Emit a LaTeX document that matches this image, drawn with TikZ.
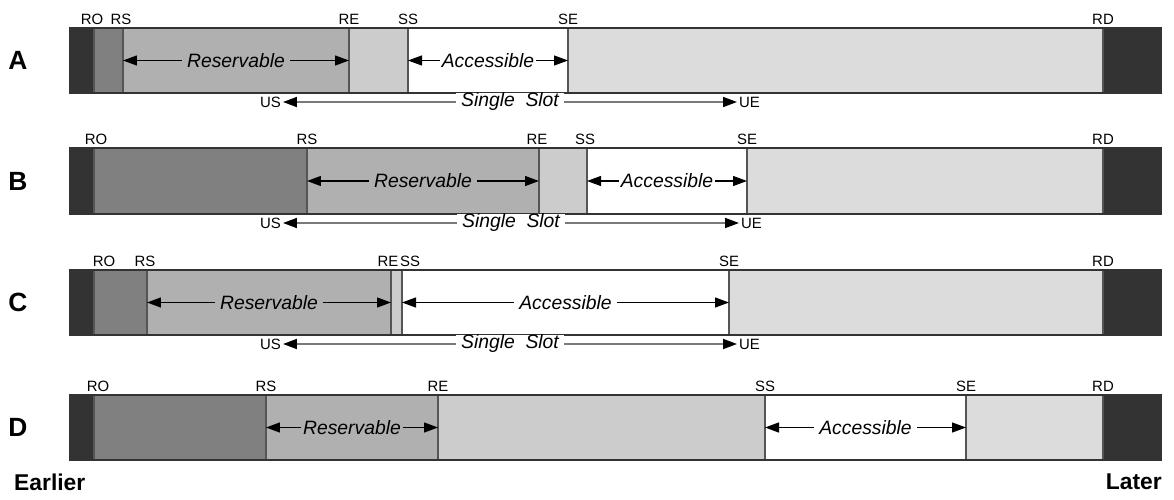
\documentclass[tikz,border=0pt]{standalone}
\usepackage{fontspec}
\setmainfont{Liberation Sans}
\usetikzlibrary{arrows.meta}
\definecolor{Ink}{HTML}{333333}
\definecolor{Used}{HTML}{808080}
\definecolor{Resv}{HTML}{B0B0B0}
\definecolor{Gap}{HTML}{CCCCCC}
\definecolor{Rest}{HTML}{DCDCDC}
\definecolor{Rule}{HTML}{555555}
\definecolor{Wire}{HTML}{7A7A7A}

\begin{document}
\begin{tikzpicture}[x=0.02cm, y=-0.02cm,
  tick/.style={font=\fontsize{8.5}{9}\selectfont, inner sep=1pt, anchor=south},
  rowname/.style={font=\fontsize{15}{16}\selectfont\bfseries},
  span/.style={{Triangle[length=0.28cm,width=0.2cm]}-{Triangle[length=0.28cm,width=0.2cm]}, line width=0.7pt},
  spantext/.style={font=\fontsize{11}{12}\selectfont\itshape, inner xsep=3pt, inner ysep=0pt},
  slot/.style={{Triangle[length=0.28cm,width=0.2cm,color=black]}-{Triangle[length=0.28cm,width=0.2cm,color=black]}, draw=Wire, line width=1pt},
  sep/.style={draw=Rule, line width=0.8pt},
  frame/.style={draw=Ink, line width=0.7pt}]
\useasboundingbox (0,0) rectangle (1174,500);

% row A
\node[rowname] (A) at (18,60.5) {A};
\foreach \l/\r/\c in {70/94/Ink,94/123/Used,123/349/Resv,349/408/Gap,408/568/white,568/1103/Rest,1103/1161/Ink}
  \fill[\c] (\l,28) rectangle (\r,93);
\foreach \x in {94,123,349,408,568,1103} \draw[sep] (\x,28) -- (\x,93);
\draw[frame] (70,28) rectangle (1161,93);
\node[tick] (aRO) at (92,27) {RO};
\node[tick] (aRS) at (121,27) {RS};
\node[tick] (aRE) at (349,27) {RE};
\node[tick] (aSS) at (408,27) {SS};
\node[tick] (aSE) at (568,27) {SE};
\node[tick] (aRD) at (1103,27) {RD};
\coordinate (aRSm) at (123,60.5);
\coordinate (aREm) at (349,60.5);
\coordinate (aSSm) at (408,60.5);
\coordinate (aSEm) at (568,60.5);
\draw[span] (aRSm) -- node[spantext, fill=Resv] {Reservable} (aREm);
\draw[span] (aSSm) -- node[spantext, fill=white, inner xsep=1pt] {Accessible} (aSEm);
\node[tick, anchor=east] (aUS) at (283,102) {US};
\node[tick, anchor=west] (aUE) at (737,102) {UE};
\draw[slot] (aUS.east) -- node[spantext, fill=white] {Single\ \ Slot} (aUE.west);

% row B
\node[rowname] (B) at (18,181) {B};
\foreach \l/\r/\c in {70/94/Ink,94/307/Used,307/539/Resv,539/587/Gap,587/747/white,747/1103/Rest,1103/1161/Ink}
  \fill[\c] (\l,148) rectangle (\r,214);
\foreach \x in {94,307,539,587,747,1103} \draw[sep] (\x,148) -- (\x,214);
\draw[frame] (70,148) rectangle (1161,214);
\node[tick] (bRO) at (96,147) {RO};
\node[tick] (bRS) at (307,147) {RS};
\node[tick] (bRE) at (537,147) {RE};
\node[tick] (bSS) at (585,147) {SS};
\node[tick] (bSE) at (747,147) {SE};
\node[tick] (bRD) at (1103,147) {RD};
\coordinate (bRSm) at (307,181);
\coordinate (bREm) at (539,181);
\coordinate (bSSm) at (587,181);
\coordinate (bSEm) at (747,181);
\draw[span] (bRSm) -- node[spantext, fill=Resv] {Reservable} (bREm);
\draw[span] (bSSm) -- node[spantext, fill=white, inner xsep=1pt] {Accessible} (bSEm);
\node[tick, anchor=east] (bUS) at (283,223) {US};
\node[tick, anchor=west] (bUE) at (739,223) {UE};
\draw[slot] (bUS.east) -- node[spantext, fill=white] {Single\ \ Slot} (bUE.west);

% row C
\node[rowname] (C) at (18,302.5) {C};
\foreach \l/\r/\c in {70/94/Ink,94/147/Used,147/391/Resv,391/402/Gap,402/729/white,729/1103/Rest,1103/1161/Ink}
  \fill[\c] (\l,270) rectangle (\r,335);
\foreach \x in {94,147,391,402,729,1103} \draw[sep] (\x,270) -- (\x,335);
\draw[frame] (70,270) rectangle (1161,335);
\node[tick] (cRO) at (104,269) {RO};
\node[tick] (cRS) at (145,269) {RS};
\node[tick] (cRE) at (388,269) {RE};
\node[tick] (cSS) at (410,269) {SS};
\node[tick] (cSE) at (729,269) {SE};
\node[tick] (cRD) at (1103,269) {RD};
\coordinate (cRSm) at (147,302.5);
\coordinate (cREm) at (391,302.5);
\coordinate (cSSm) at (402,302.5);
\coordinate (cSEm) at (729,302.5);
\draw[span] (cRSm) -- node[spantext, fill=Resv] {Reservable} (cREm);
\draw[span] (cSSm) -- node[spantext, fill=white] {Accessible} (cSEm);
\node[tick, anchor=east] (cUS) at (283,344) {US};
\node[tick, anchor=west] (cUE) at (737,344) {UE};
\draw[slot] (cUS.east) -- node[spantext, fill=white] {Single\ \ Slot} (cUE.west);

% row D
\node[rowname] (D) at (18,427.5) {D};
\foreach \l/\r/\c in {70/94/Ink,94/266/Used,266/438/Resv,438/765/Gap,765/966/white,966/1103/Rest,1103/1161/Ink}
  \fill[\c] (\l,395) rectangle (\r,460);
\foreach \x in {94,266,438,765,966,1103} \draw[sep] (\x,395) -- (\x,460);
\draw[frame] (70,395) rectangle (1161,460);
\node[tick] (dRO) at (98,394) {RO};
\node[tick] (dRS) at (266,394) {RS};
\node[tick] (dRE) at (438,394) {RE};
\node[tick] (dSS) at (765,394) {SS};
\node[tick] (dSE) at (966,394) {SE};
\node[tick] (dRD) at (1103,394) {RD};
\coordinate (dRSm) at (266,427.5);
\coordinate (dREm) at (438,427.5);
\coordinate (dSSm) at (765,427.5);
\coordinate (dSEm) at (966,427.5);
\draw[span] (dRSm) -- node[spantext, fill=Resv, inner xsep=1pt] {Reservable} (dREm);
\draw[span] (dSSm) -- node[spantext, fill=white] {Accessible} (dSEm);

\node[font=\fontsize{13}{14}\selectfont\bfseries, anchor=west] (early) at (8,482) {Earlier};
\node[font=\fontsize{13}{14}\selectfont\bfseries, anchor=east] (late) at (1168,482) {Later};
\end{tikzpicture}
\end{document}
